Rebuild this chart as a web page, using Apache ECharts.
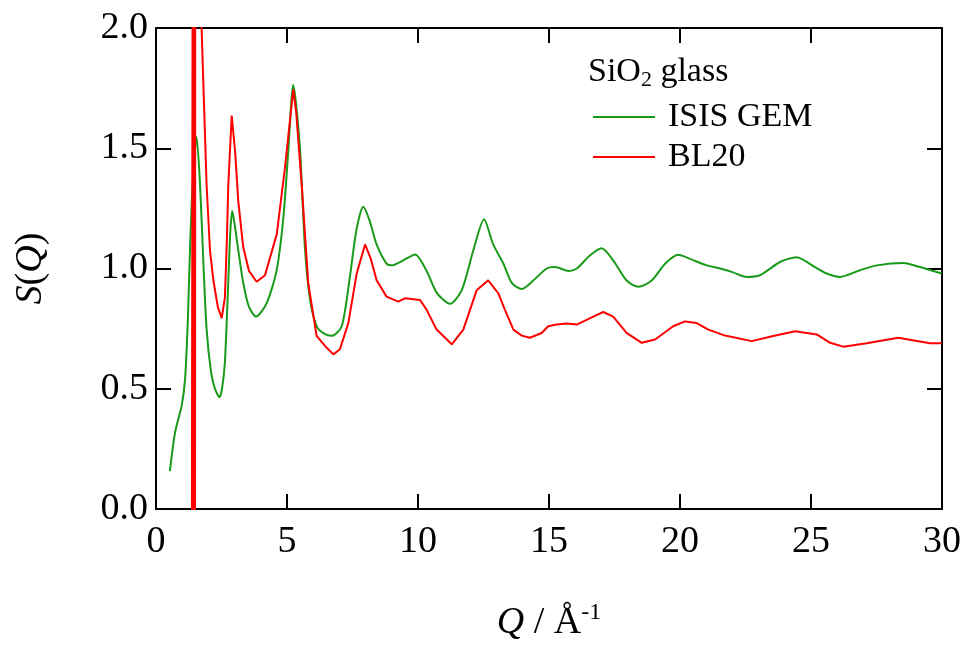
<!DOCTYPE html>
<html>
<head>
<meta charset="utf-8">
<script src="https://cdn.jsdelivr.net/npm/echarts@6/dist/echarts.min.js"></script>
<style>
  html, body { margin: 0; padding: 0; background: #fff; }
  #chart { width: 965px; height: 647px; }
</style>
</head>
<body>
<div id="chart"></div>
<script>
// S(Q) of SiO2 glass: [Q, S(Q)]
const gemData = [
  [0.53, 0.157], [0.73, 0.32], [0.98, 0.43], [1.11, 0.54], [1.22, 0.80], [1.30, 1.09],
  [1.42, 1.40], [1.55, 1.547], [1.68, 1.35], [1.81, 1.02], [1.93, 0.75], [2.10, 0.57],
  [2.25, 0.50], [2.42, 0.465], [2.52, 0.50], [2.63, 0.61], [2.76, 0.95], [2.84, 1.16],
  [2.91, 1.239], [3.02, 1.17], [3.14, 1.076], [3.33, 0.94], [3.55, 0.84], [3.82, 0.80],
  [4.22, 0.855], [4.6, 0.99], [4.86, 1.21], [5.05, 1.49], [5.24, 1.763], [5.35, 1.68],
  [5.50, 1.49], [5.69, 1.076], [5.88, 0.87], [6.13, 0.76], [6.40, 0.73], [6.71, 0.72],
  [7.09, 0.76], [7.40, 0.965], [7.65, 1.16], [7.91, 1.257], [8.15, 1.20], [8.42, 1.10],
  [8.80, 1.02], [9.0, 1.013], [9.44, 1.034], [9.89, 1.058], [10.33, 0.99], [10.71, 0.90],
  [11.22, 0.853], [11.67, 0.91], [12.11, 1.075], [12.52, 1.205], [12.87, 1.10],
  [13.26, 1.02], [13.58, 0.94], [13.96, 0.915], [14.40, 0.95], [14.91, 1.0], [15.23, 1.006],
  [15.74, 0.99], [16.06, 1.0], [16.56, 1.054], [17.01, 1.084], [17.45, 1.034],
  [17.96, 0.95], [18.41, 0.924], [18.92, 0.95], [19.43, 1.02], [19.94, 1.057],
  [20.38, 1.04], [21.02, 1.013], [21.53, 1.0], [22.00, 0.985], [22.55, 0.965], [23.05, 0.972],
  [23.82, 1.027], [24.45, 1.047], [25.15, 1.006], [25.60, 0.979], [26.1, 0.965],
  [26.87, 0.993], [27.51, 1.013], [28.53, 1.023], [29.16, 1.006], [29.99, 0.979]
];

const bl20Data = [
  [1.37, -0.1], [1.40, 2.5], [1.43, -0.1], [1.46, 2.5], [1.49, -0.1], [1.50, 3.0],
  [1.62, 3.0], [1.74, 2.0], [1.81, 1.76], [1.93, 1.35], [2.06, 1.076], [2.19, 0.95],
  [2.36, 0.84], [2.51, 0.794], [2.63, 0.88], [2.70, 1.10], [2.76, 1.35], [2.89, 1.636],
  [3.02, 1.485], [3.14, 1.28], [3.33, 1.088], [3.55, 0.99], [3.84, 0.945], [4.16, 0.972],
  [4.61, 1.143], [4.92, 1.417], [5.24, 1.745], [5.35, 1.65], [5.56, 1.35], [5.81, 0.94],
  [6.13, 0.72], [6.45, 0.678], [6.77, 0.643], [7.02, 0.664], [7.34, 0.773], [7.66, 0.979],
  [7.98, 1.10], [8.20, 1.04], [8.42, 0.951], [8.80, 0.883], [9.25, 0.862], [9.50, 0.876],
  [10.08, 0.869], [10.33, 0.828], [10.71, 0.746], [11.29, 0.685], [11.73, 0.746],
  [12.24, 0.91], [12.68, 0.951], [13.07, 0.896], [13.32, 0.828], [13.64, 0.746],
  [13.96, 0.721], [14.27, 0.712], [14.72, 0.732], [14.97, 0.76], [15.29, 0.767],
  [15.67, 0.771], [16.06, 0.767], [16.69, 0.80], [17.07, 0.819], [17.45, 0.80],
  [17.96, 0.732], [18.54, 0.691], [19.05, 0.705], [19.74, 0.76], [20.19, 0.78],
  [20.64, 0.773], [21.08, 0.746], [21.72, 0.721], [22.74, 0.698], [23.56, 0.719],
  [24.39, 0.739], [25.22, 0.726], [25.73, 0.691], [26.23, 0.675], [27.13, 0.689],
  [28.33, 0.712], [29.54, 0.689], [29.99, 0.689]
];

const seriesNames = ['ISIS GEM', 'BL20'];
const seriesColors = ['#1a9a1a', '#ff0000'];

const font = 'Liberation Serif';
const black = '#000';

const chart = echarts.init(document.getElementById('chart'));

// frame on all four sides, ticks pointing in
const frameAxis = {
  axisLine: { show: true, onZero: false, lineStyle: { color: black, width: 2 } },
  axisTick: { show: true, inside: true, length: 15, lineStyle: { color: black, width: 2 } },
  splitLine: { show: false }
};

chart.setOption({
  backgroundColor: '#fff',
  animation: false,
  textStyle: { fontFamily: font },
  title: {
    text: '{a|SiO}{b|2}{a| glass}',
    left: 583,
    top: 48,
    textStyle: {
      rich: {
        a: { fontFamily: font, fontSize: 34, fontWeight: 'normal', color: black },
        b: { fontFamily: font, fontSize: 22, fontWeight: 'normal', color: black, padding: [16, 0, 0, 0] }
      }
    }
  },
  legend: {
    data: seriesNames,
    orient: 'vertical',
    left: 588,
    top: 92,
    icon: 'rect',
    itemWidth: 62,
    itemHeight: 2,
    itemGap: 0,
    textStyle: { fontFamily: font, fontSize: 34, color: black, lineHeight: 40, padding: [0, 0, 0, 8] }
  },
  grid: { left: 156, right: 23, top: 28, bottom: 132, containLabel: false },
  xAxis: [
    Object.assign({
      type: 'value', min: 0, max: 30, interval: 5,
      axisLabel: { fontFamily: font, fontSize: 38, color: black, margin: 14 },
      name: '{i|Q}{n| / Å}{s|-1}',
      nameLocation: 'middle',
      nameGap: 92,
      nameTextStyle: {
        rich: {
          i: { fontFamily: font, fontSize: 38, fontStyle: 'italic', color: black },
          n: { fontFamily: font, fontSize: 38, color: black },
          s: { fontFamily: font, fontSize: 24, color: black, padding: [0, 0, 20, 0] }
        }
      }
    }, frameAxis),
    Object.assign({
      type: 'value', min: 0, max: 30, interval: 5, position: 'top',
      axisLabel: { show: false }
    }, frameAxis)
  ],
  yAxis: [
    Object.assign({
      type: 'value', min: 0, max: 2, interval: 0.5,
      axisLabel: { fontFamily: font, fontSize: 38, color: black, margin: 8,
        formatter: v => v.toFixed(1) },
      name: '{i|S}{n|(}{i|Q}{n|)}',
      nameLocation: 'middle',
      nameRotate: 90,
      nameGap: 106,
      nameTextStyle: {
        rich: {
          i: { fontFamily: font, fontSize: 38, fontStyle: 'italic', color: black },
          n: { fontFamily: font, fontSize: 38, color: black }
        }
      }
    }, frameAxis),
    Object.assign({
      type: 'value', min: 0, max: 2, interval: 0.5, position: 'right',
      axisLabel: { show: false }
    }, frameAxis)
  ],
  series: [
    {
      name: seriesNames[0], type: 'line', data: gemData, symbol: 'none',
      smooth: 0.25, clip: true,
      color: seriesColors[0], lineStyle: { color: seriesColors[0], width: 2 }
    },
    {
      name: seriesNames[1], type: 'line', data: bl20Data, symbol: 'none',
      smooth: false, clip: true,
      color: seriesColors[1], lineStyle: { color: seriesColors[1], width: 2 }
    }
  ]
});
</script>
</body>
</html>
